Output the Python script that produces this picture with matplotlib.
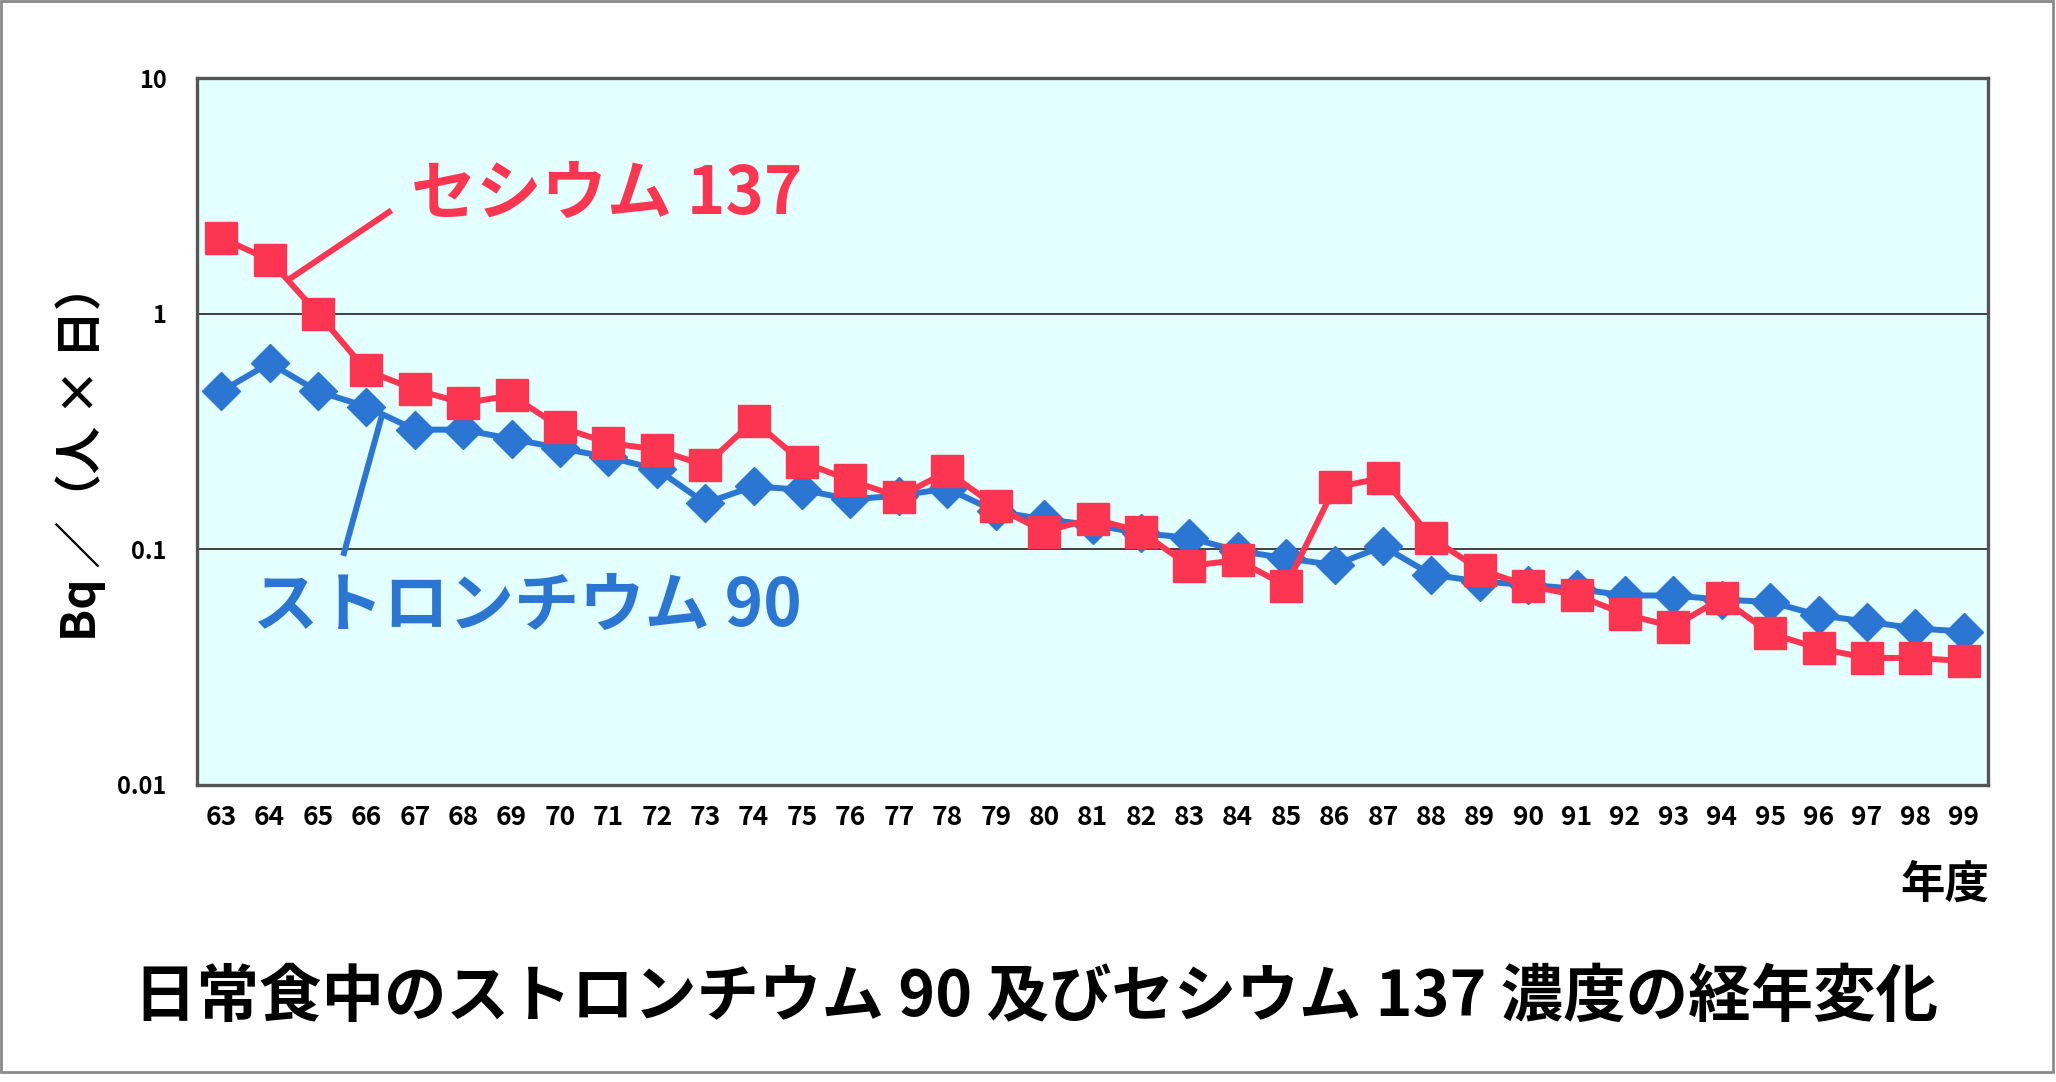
import matplotlib
matplotlib.use("Agg")
import matplotlib.pyplot as plt
from matplotlib.patches import Rectangle
from matplotlib.lines import Line2D

plt.rcParams['font.family'] = ['Noto Sans CJK JP', 'DejaVu Sans']

# ---- data ----
years = ['63', '64', '65', '66', '67', '68', '69', '70', '71', '72', '73', '74', '75',
         '76', '77', '78', '79', '80', '81', '82', '83', '84', '85', '86', '87', '88',
         '89', '90', '91', '92', '93', '94', '95', '96', '97', '98', '99']
cs137 = [2.10, 1.69, 1.00, 0.574, 0.477, 0.417, 0.450, 0.330, 0.283, 0.265, 0.227,
         0.351, 0.235, 0.196, 0.167, 0.214, 0.152, 0.119, 0.135, 0.119, 0.085, 0.090,
         0.070, 0.183, 0.201, 0.112, 0.082, 0.070, 0.064, 0.053, 0.047, 0.062, 0.044,
         0.038, 0.0346, 0.0346, 0.0336]
sr90 = [0.468, 0.617, 0.468, 0.403, 0.322, 0.322, 0.294, 0.269, 0.246, 0.219, 0.157,
        0.185, 0.179, 0.163, 0.169, 0.181, 0.145, 0.134, 0.127, 0.117, 0.112, 0.0985,
        0.0917, 0.0857, 0.103, 0.0781, 0.0730, 0.0707, 0.0680, 0.0637, 0.0637, 0.0612,
        0.0598, 0.0526, 0.0493, 0.0462, 0.0448]
yticks = [0.01, 0.1, 1, 10]
ytick_labels = ['0.01', '0.1', '1', '10']

RED = '#FC3650'
BLUE = '#2A76D2'
BG = '#E3FFFF'

W, H = 2056, 1082
fig = plt.figure(figsize=(W / 100, H / 100), dpi=100)

def fx(px):
    return px / W

def fy(py):
    return 1 - py / H

ax = fig.add_axes([fx(197), fy(785), fx(1988) - fx(197), fy(78) - fy(785)])
ax.set_facecolor(BG)
ax.set_yscale('log')
ax.set_ylim(0.01, 10)
ax.set_xlim(-0.5, len(years) - 0.5)

x = list(range(len(years)))
ax.plot(x, sr90, color=BLUE, lw=4.3, marker='D', markersize=19.5, zorder=3, clip_on=False)
ax.plot(x, cs137, color=RED, lw=4.3, marker='s', markersize=23, zorder=4, clip_on=False)

ax.set_xticks(x)
ax.set_xticklabels(years, fontsize=19, fontweight='bold')
ax.set_yticks(yticks)
ax.set_yticklabels(ytick_labels, fontsize=17, fontweight='bold')
ax.yaxis.set_minor_locator(matplotlib.ticker.NullLocator())
ax.tick_params(axis='both', length=0)
ax.tick_params(axis='x', pad=14)
ax.tick_params(axis='y', pad=22)
ax.grid(axis='y', which='major', color='#404040', lw=1.4)
ax.set_axisbelow(True)
for s in ax.spines.values():
    s.set_color('#555555')
    s.set_linewidth(2.4)

# y label
fig.text(fx(81), fy(452), 'Bq ／（人 × 日）', rotation=90, fontsize=34,
         fontweight='bold', ha='center', va='center')
# x unit label
fig.text(fx(1989), fy(885), '年度', fontsize=32, fontweight='bold', ha='right', va='center')

# series labels
fig.text(fx(802), fy(194), 'セシウム 137', color=RED, fontsize=47, fontweight='bold',
         ha='right', va='center')
fig.text(fx(802), fy(606), 'ストロンチウム 90', color=BLUE, fontsize=47, fontweight='bold',
         ha='right', va='center')
fig.add_artist(Line2D([fx(389), fx(291)], [fy(212), fy(278)], color=RED, lw=4.3,
                      transform=fig.transFigure, zorder=5))
fig.add_artist(Line2D([fx(382), fx(344)], [fy(415), fy(553)], color=BLUE, lw=4.3,
                      transform=fig.transFigure, zorder=5))

# title
fig.text(fx(1036), fy(997), '日常食中のストロンチウム 90 及びセシウム 137 濃度の経年変化',
         fontsize=45, fontweight='bold', ha='center', va='center')

# outer frame
fig.add_artist(Rectangle((fx(1), fy(1072)), fx(2053) - fx(1), fy(1) - fy(1072),
                         fill=False, edgecolor='#8a8a8a', lw=2, transform=fig.transFigure))

fig.savefig('out.png', dpi=100, facecolor='white')
